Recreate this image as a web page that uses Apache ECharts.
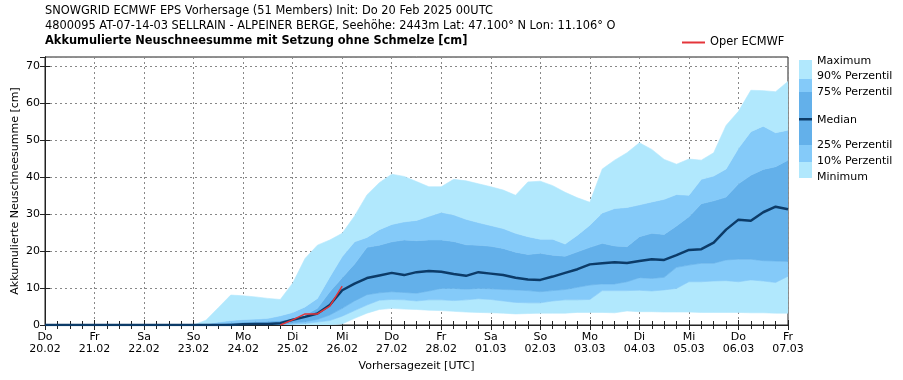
<!DOCTYPE html>
<html><head><meta charset="utf-8">
<script src="https://cdn.jsdelivr.net/npm/echarts@6/dist/echarts.min.js"></script>
<style>html,body{margin:0;padding:0;background:#fff}#c{width:903px;height:380px}</style>
</head><body><div id="c"></div>
<script>
// Day tick labels (every 24h = 4 steps of 6h)
const dayLabels = ['Do\n20.02','Fr\n21.02','Sa\n22.02','So\n23.02','Mo\n24.02','Di\n25.02','Mi\n26.02','Do\n27.02','Fr\n28.02','Sa\n01.03','So\n02.03','Mo\n03.03','Di\n04.03','Mi\n05.03','Do\n06.03','Fr\n07.03'];
// 6-hourly values, 61 steps (cm)
const minimum = [0,0,0,0,0,0,0,0,0,0,0,0,0,0,0,0,0,0,0,0,0,0,0,0,
  0.3,1.8,3.2,4.2,4.5,4.3,4.2,4.0,3.9,3.7,3.5,3.4,3.3,3.2,3.0,3.1,3.2,3.2,3.2,3.4,3.4,3.4,3.3,3.8,3.6,3.6,3.5,3.5,3.5,3.4,3.4,3.4,3.4,3.3,3.3,3.2,3.2];
const p10 = [0,0,0,0,0,0,0,0,0,0,0,0,0,0,0,0,0,0,0,0,
  0.2,0.4,0.8,1.2,2.4,3.9,5.4,6.7,6.9,6.8,6.5,6.8,6.8,6.6,6.8,7.1,6.9,6.5,6.1,6.0,6.0,6.5,6.8,6.8,6.9,9.3,9.3,9.3,9.4,9.2,9.5,9.9,11.7,11.7,11.9,12.0,11.7,12.2,11.9,11.5,13.2];
const p25 = [0,0,0,0,0,0,0,0,0,0,0,0,0,0,0,0,0,0,0,0,
  0.6,0.9,1.5,2.7,4.5,6.5,8.2,8.7,9.0,8.8,8.6,9.2,9.9,9.9,9.7,9.9,9.8,9.6,9.5,9.3,9.0,9.3,9.6,10.2,10.8,11.1,11.1,11.7,12.8,12.6,12.9,15.6,16.2,16.7,16.7,17.6,17.8,17.8,17.4,17.3,17.2];
const median = [0,0,0,0,0,0,0,0,0,0,0,0,0,0,0,0,
  0.2,0.3,0.3,0.5,1.4,2.2,3.1,5.4,9.4,11.2,12.7,13.4,14.1,13.5,14.3,14.6,14.4,13.8,13.3,14.3,13.9,13.5,12.8,12.3,12.2,13.1,14.1,15.1,16.4,16.7,17.0,16.8,17.3,17.8,17.6,18.9,20.3,20.5,22.3,25.8,28.5,28.2,30.5,32.0,31.3];
const p75 = [0,0,0,0,0,0,0,0,0,0,0,0,0,
  0.1,0.3,0.6,0.8,0.9,1.0,1.2,1.7,2.7,4.5,9.0,12.8,16.5,21.0,21.6,22.5,23.0,22.8,23.0,23.0,22.6,21.7,21.6,21.3,20.7,19.7,19.1,19.4,18.9,18.6,19.8,21.0,22.1,21.4,21.2,23.9,24.8,24.5,26.8,29.3,32.8,33.6,34.6,38.2,40.5,42.1,42.8,44.6];
const p90 = [0,0,0,0,0,0,0,0,0,0,0,0,0,
  0.3,0.8,1.2,1.5,1.6,1.8,2.5,3.4,4.9,7.2,13.0,18.5,22.5,23.7,25.8,27.2,27.9,28.3,29.4,30.5,29.8,28.6,27.7,26.9,26.1,24.8,23.9,23.2,23.2,21.9,24.3,27.0,30.3,31.5,31.8,32.5,33.3,34.0,35.3,35.1,39.4,40.3,42.2,47.8,52.3,53.8,52.0,52.7];
const maximum = [0,0,0,0,0,0,0,0,0,0,0,0,0,
  1.3,4.7,8.1,7.9,7.6,7.2,6.9,11.3,18.0,21.6,23.0,24.8,29.5,35.2,38.5,40.8,40.2,38.8,37.4,37.4,39.4,39.0,38.2,37.4,36.5,35.1,38.7,38.9,37.7,35.9,34.4,33.2,42.2,44.6,46.6,49.3,47.5,44.8,43.5,44.9,44.6,46.6,54.0,57.8,63.5,63.4,63.1,65.9];
const oper = [null,null,null,null,null,null,null,null,null,null,null,null,null,null,null,null,null,null,null,
  0,1.4,3.0,3.0,5.1,10.5];

const C_LIGHT = '#b1e8fd', C_MED = '#84caf9', C_DARK = '#63b0ea', C_MEDIAN = '#0c3b68', C_RED = '#e4353a';

const xy = arr => arr.map((v, i) => [i, v]);

// band polygon between two arrays, drawn via the axis scales (api.coord)
function band(name, lower, upper, color) {
  return {
    name, type: 'custom', silent: true, z: 1, clip: true,
    data: [[0, 0]],
    renderItem: (params, api) => {
      const pts = [];
      for (let i = 0; i < upper.length; i++) pts.push(api.coord([i, upper[i]]));
      for (let i = lower.length - 1; i >= 0; i--) pts.push(api.coord([i, lower[i]]));
      return { type: 'polygon', shape: { points: pts }, style: { fill: color, stroke: color, lineWidth: 0.6 } };
    }
  };
}

const chart = echarts.init(document.getElementById('c'), null, { renderer: 'canvas' });
const tfont = 'DejaVu Sans';
const txt = (x, y, s, opt) => ({ type: 'text', x, y, style: Object.assign({ text: s, font: '11px DejaVu Sans', fill: '#000', textVerticalAlign: 'middle' }, opt || {}) });

const cb = 799, cw = 13;
chart.setOption({
  animation: false,
  backgroundColor: '#fff',
  grid: { left: 45, right: 115, top: 57, bottom: 55, show: true, borderColor: '#222', borderWidth: 1, outerBoundsMode: 'none', containLabel: false },
  title: [
    { text: 'SNOWGRID ECMWF EPS Vorhersage (51 Members) Init: Do 20 Feb 2025 00UTC', left: 45, top: 6, padding: 0,
      textStyle: { fontFamily: tfont, fontSize: 11.4, fontWeight: 'normal', color: '#000' } },
    { text: '4800095 AT-07-14-03 SELLRAIN - ALPEINER BERGE, Seehöhe: 2443m Lat: 47.100° N Lon: 11.106° O', left: 45, top: 21, padding: 0,
      textStyle: { fontFamily: tfont, fontSize: 11.4, fontWeight: 'normal', color: '#000' } },
    { text: 'Akkumulierte Neuschneesumme mit Setzung ohne Schmelze [cm]', left: 45, top: 36, padding: 0,
      textStyle: { fontFamily: tfont, fontSize: 11.4, fontWeight: 'bold', color: '#000' } }
  ],
  legend: { data: [{ name: 'Oper ECMWF', icon: 'rect' }], left: 682, top: 37, padding: 0, itemWidth: 23, itemHeight: 2, itemGap: 5,
    textStyle: { fontFamily: tfont, fontSize: 11.4, color: '#000', padding: [0, 0, 0, 0] } },
  xAxis: [
    { type: 'value', min: 0, max: 60, interval: 4, position: 'bottom',
      name: 'Vorhersagezeit [UTC]', nameLocation: 'middle', nameGap: 36, nameMoveOverlap: false,
      nameTextStyle: { fontFamily: 'DejaVu Sans', fontSize: 11, color: '#000' },
      axisLine: { show: true, lineStyle: { color: '#222', width: 1 } },
      axisTick: { show: true, inside: true, length: 5, lineStyle: { color: '#222' } },
      minorTick: { show: true, splitNumber: 4, length: 4, lineStyle: { color: '#222' } },
      axisLabel: { formatter: v => dayLabels[Math.round(v / 4)] || '', fontFamily: 'DejaVu Sans', fontSize: 11, color: '#000', lineHeight: 12, margin: 6, align: 'center' },
      splitLine: { show: true, lineStyle: { type: [2, 3], color: '#888', width: 1 } } },
    { type: 'value', min: 0, max: 60, interval: 4, position: 'top',
      axisLine: { show: true, lineStyle: { color: '#222' } },
      axisTick: { show: true, inside: true, length: 5, lineStyle: { color: '#222' } },
      minorTick: { show: true, splitNumber: 4, length: 4, lineStyle: { color: '#222' } },
      axisLabel: { show: false }, splitLine: { show: false } }
  ],
  yAxis: [
    { type: 'value', min: 0, max: 72.5, interval: 10, position: 'left',
      name: 'Akkumulierte Neuschneesumme [cm]', nameLocation: 'middle', nameGap: 24, nameMoveOverlap: false,
      nameTextStyle: { fontFamily: 'DejaVu Sans', fontSize: 11, color: '#000' },
      axisLine: { show: true, lineStyle: { color: '#222' } },
      axisTick: { show: true, inside: true, length: 5, lineStyle: { color: '#222' } },
      axisLabel: { fontFamily: 'DejaVu Sans', fontSize: 11, color: '#000', margin: 5, showMaxLabel: false,
        formatter: v => (v % 10 === 0 ? String(v) : '') },
      splitLine: { show: true, lineStyle: { type: [2, 3], color: '#888', width: 1 } } },
    { type: 'value', min: 0, max: 72.5, interval: 10, position: 'right',
      axisLine: { show: true, lineStyle: { color: '#222' } },
      axisTick: { show: true, inside: true, length: 5, lineStyle: { color: '#222' } },
      axisLabel: { show: false }, splitLine: { show: false } }
  ],
  series: [
    band('Min-10', minimum, p10, C_LIGHT),
    band('10-25', p10, p25, C_MED),
    band('25-75', p25, p75, C_DARK),
    band('75-90', p75, p90, C_MED),
    band('90-Max', p90, maximum, C_LIGHT),
    { name: 'Median', type: 'line', data: xy(median), symbol: 'none', silent: true, z: 5,
      lineStyle: { color: C_MEDIAN, width: 2.5 } },
    { name: 'Oper ECMWF', type: 'line', data: xy(oper), symbol: 'none', silent: true, z: 6, color: C_RED,
      lineStyle: { color: C_RED, width: 1.5 } }
  ],
  graphic: [
    { type: 'rect', shape: { x: cb, y: 60, width: cw, height: 19 }, style: { fill: C_LIGHT } },
    { type: 'rect', shape: { x: cb, y: 79, width: cw, height: 13 }, style: { fill: C_MED } },
    { type: 'rect', shape: { x: cb, y: 92, width: cw, height: 53 }, style: { fill: C_DARK } },
    { type: 'rect', shape: { x: cb, y: 118, width: cw, height: 2.5 }, style: { fill: C_MEDIAN } },
    { type: 'rect', shape: { x: cb, y: 145, width: cw, height: 17 }, style: { fill: C_MED } },
    { type: 'rect', shape: { x: cb, y: 162, width: cw, height: 16 }, style: { fill: C_LIGHT } },
    txt(817, 61, 'Maximum'),
    txt(817, 76, '90% Perzentil'),
    txt(817, 92, '75% Perzentil'),
    txt(817, 120, 'Median'),
    txt(817, 145, '25% Perzentil'),
    txt(817, 161, '10% Perzentil'),
    txt(817, 177, 'Minimum')
  ]
});
</script></body></html>
